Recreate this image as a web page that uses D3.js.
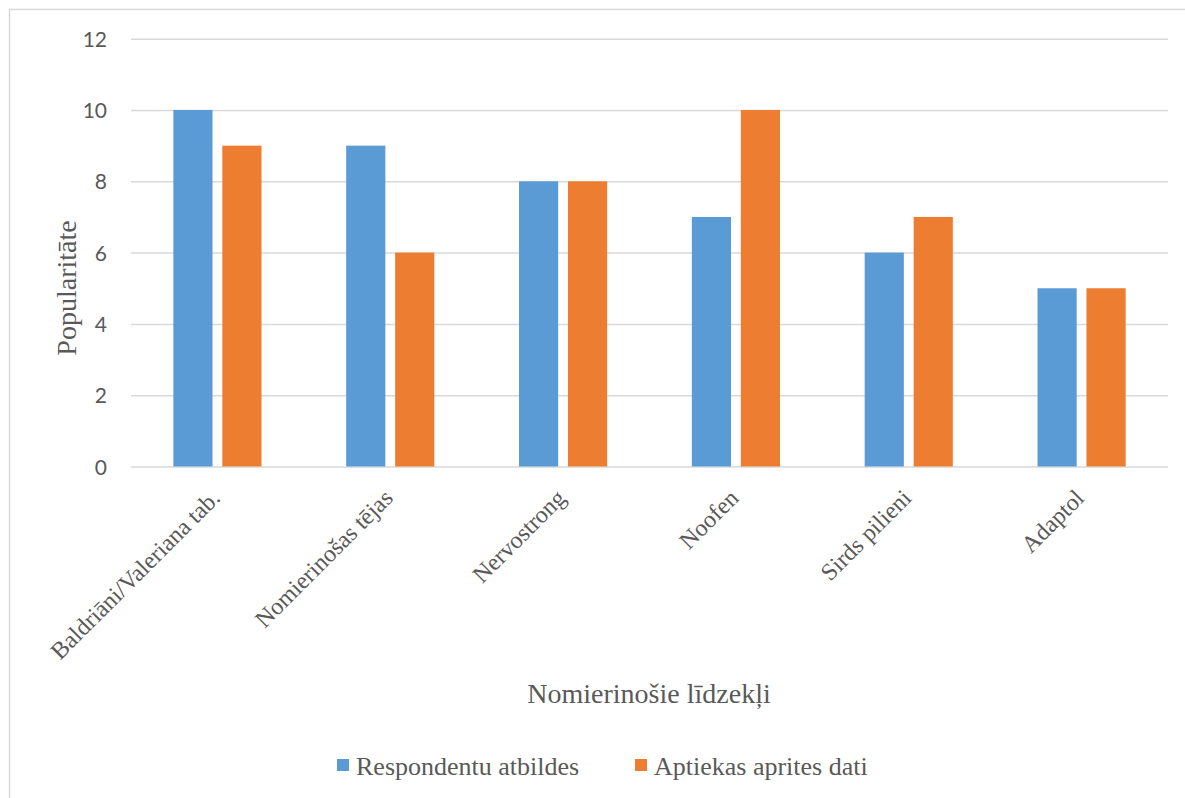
<!DOCTYPE html>
<html>
<head>
<meta charset="utf-8">
<script src="https://cdn.jsdelivr.net/npm/d3@7"></script>
<style>
  html, body { margin: 0; padding: 0; background: #fff; overflow: hidden; }
  svg { display: block; }
</style>
</head>
<body>
<svg id="chart" width="1185" height="798"></svg>
<script>
const categories = ["Baldriāni/Valeriana tab.", "Nomierinošas tējas", "Nervostrong", "Noofen", "Sirds pilieni", "Adaptol"];
const seriesNames = ["Respondentu atbildes", "Aptiekas aprites dati"];
const respondentuAtbildes = [10, 9, 8, 7, 6, 5];
const aptiekasApritesDati = [9, 6, 8, 10, 7, 5];
const yTicks = [0, 2, 4, 6, 8, 10, 12];
const seriesColors = ["#5B9BD5", "#ED7D31"];
const yTitle = "Popularitāte";
const xTitle = "Nomierinošie līdzekļi";

(function () {
const seriesValues = [respondentuAtbildes, aptiekasApritesDati];
const rows = categories.map((c, i) => ({ cat: c, values: seriesNames.map((s, j) => ({ series: s, idx: j, value: seriesValues[j][i] })) }));

const svg = d3.select("#chart");
const serif = "'Liberation Serif', 'Times New Roman', serif";
const sans = "Lato, 'Open Sans', sans-serif";
const textColor = "#595959";

// outer chart border (extends past right/bottom edge)
svg.append("rect")
  .attr("x", 9.5).attr("y", 9.5)
  .attr("width", 1300).attr("height", 900)
  .attr("fill", "none").attr("stroke", "#D9D9D9").attr("stroke-width", 1.5);

const pLeft = 131, pRight = 1168, pTop = 38.7, pBottom = 466.5;

const y = d3.scaleLinear().domain([0, 12]).range([pBottom, pTop]);
const x0 = d3.scaleBand().domain(categories).range([pLeft, pRight]).paddingInner(0.49).paddingOuter(0.245);
const x1 = d3.scaleBand().domain(seriesNames).range([0, x0.bandwidth()]).paddingInner(0.2);

// gridlines + y tick labels
const yAxis = d3.axisLeft(y).tickValues(yTicks).tickSize(-(pRight - pLeft)).tickPadding(24).tickFormat(d3.format("d"));
const gy = svg.append("g").attr("transform", `translate(${pLeft},0)`).call(yAxis);
gy.select(".domain").remove();
gy.selectAll(".tick line").attr("stroke", "#D9D9D9").attr("stroke-width", 1.5);
gy.selectAll(".tick text")
  .attr("fill", textColor)
  .style("font-family", sans)
  .style("font-size", "21px")
  .attr("dy", "0.36em");

// bars
const groups = svg.append("g").selectAll("g").data(rows).join("g")
  .attr("transform", d => `translate(${x0(d.cat)},0)`);
groups.selectAll("rect").data(d => d.values).join("rect")
  .attr("x", d => x1(d.series))
  .attr("width", x1.bandwidth())
  .attr("y", d => y(d.value))
  .attr("height", d => y(0) - y(d.value))
  .attr("fill", d => seriesColors[d.idx]);

// x axis labels
const xAxis = d3.axisBottom(x0).tickSize(0).tickPadding(0);
const gx = svg.append("g").attr("transform", `translate(0,${pBottom})`).call(xAxis);
gx.select(".domain").remove();
gx.selectAll(".tick text")
  .attr("fill", textColor)
  .style("font-family", serif)
  .style("font-size", "24px")
  .attr("text-anchor", "end")
  .attr("x", 0).attr("y", 0).attr("dy", 0)
  .attr("transform", "translate(4,33) rotate(-45)");

// y title
svg.append("text")
  .attr("transform", "translate(76,288) rotate(-90)")
  .attr("text-anchor", "middle")
  .attr("fill", textColor)
  .style("font-family", serif)
  .style("font-size", "28px")
  .text(yTitle);

// x title
svg.append("text")
  .attr("x", 649).attr("y", 703)
  .attr("text-anchor", "middle")
  .attr("fill", textColor)
  .style("font-family", serif)
  .style("font-size", "28px")
  .text(xTitle);

// legend
const legendX = [337, 635];
const lg = svg.append("g").selectAll("g").data(seriesNames).join("g")
  .attr("transform", (d, i) => `translate(${legendX[i]},0)`);
lg.append("rect").attr("x", 0).attr("y", 759).attr("width", 12).attr("height", 12)
  .attr("fill", (d, i) => seriesColors[i]);
lg.append("text").attr("x", 19).attr("y", 775)
  .attr("fill", textColor)
  .style("font-family", serif)
  .style("font-size", "26px")
  .text(d => d);
})();
</script>
</body>
</html>
